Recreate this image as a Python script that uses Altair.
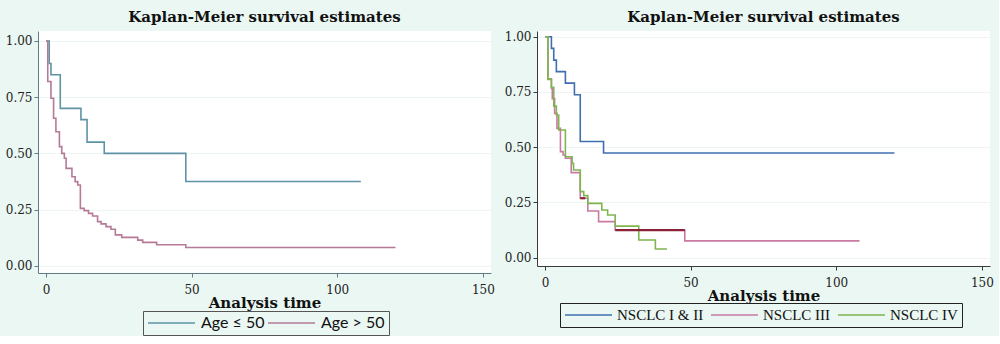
import altair as alt
import pandas as pd

# ---------------- data ----------------
left_groups = ["Age \u2264 50", "Age > 50"]
left_colors = ["#5e93a6", "#b57a98"]

age_le50_t = [0, 1.1, 1.7, 4.9, 12.0, 14.1, 20.0, 48.0, 108.1]
age_le50_s = [1.0, 0.90, 0.85, 0.70, 0.65, 0.55, 0.50, 0.375, 0.375]

age_gt50_t = [0, 0.6, 1.7, 2.6, 3.4, 4.6, 5.4, 6.3, 6.9, 8.9, 10.0, 10.9, 11.8,
              13.1, 14.6, 16.0, 17.7, 18.9, 20.6, 22.3, 23.8, 26.0, 31.5, 33.2,
              38.0, 48.0, 120.0]
age_gt50_s = [1.0, 0.82, 0.745, 0.656, 0.596, 0.53, 0.50, 0.478, 0.433, 0.396,
              0.374, 0.359, 0.255, 0.245, 0.233, 0.221, 0.196, 0.186, 0.174,
              0.162, 0.137, 0.126, 0.114, 0.104, 0.093, 0.081, 0.081]

right_groups = ["NSCLC I & II", "NSCLC III", "NSCLC IV"]
right_colors = ["#3f6fae", "#c97aa3", "#7fb551"]

nsclc12_t = [0, 2.2, 3.0, 3.9, 7.0, 10.1, 12.1, 20.1, 120.0]
nsclc12_s = [1.0, 0.947, 0.894, 0.842, 0.79, 0.737, 0.526, 0.474, 0.474]

nsclc3_t = [0, 1.0, 2.2, 2.5, 3.3, 4.1, 5.3, 6.2, 7.0, 9.0, 12.1, 14.7, 18.4,
            24.1, 48.0, 108.0]
nsclc3_s = [1.0, 0.81, 0.766, 0.72, 0.653, 0.585, 0.48, 0.465, 0.45, 0.385,
            0.269, 0.211, 0.163, 0.125, 0.076, 0.076]

nsclc4_t = [0, 1.0, 2.2, 3.0, 3.9, 4.7, 7.0, 9.3, 9.8, 12.1, 13.3, 14.7, 19.5,
            21.5, 24.1, 32.2, 37.9, 41.9]
nsclc4_s = [1.0, 0.807, 0.771, 0.686, 0.646, 0.578, 0.457, 0.427, 0.397, 0.299,
            0.281, 0.246, 0.216, 0.193, 0.143, 0.08, 0.039, 0.039]

# darker overlap segments seen on the NSCLC III curve
overlap_seg = ["a", "a", "b", "b"]
overlap_t = [12.1, 13.8, 24.1, 48.0]
overlap_s = [0.269, 0.269, 0.125, 0.125]

x_ticks = [0, 50, 100, 150]
y_ticks = [0.0, 0.25, 0.5, 0.75, 1.0]

# ---------------- tables ----------------
def frame(ts, ss, name):
    return pd.DataFrame({"t": ts, "s": ss, "g": [name] * len(ts)})

left_df = pd.concat([frame(age_le50_t, age_le50_s, left_groups[0]),
                     frame(age_gt50_t, age_gt50_s, left_groups[1])])
right_df = pd.concat([frame(nsclc12_t, nsclc12_s, right_groups[0]),
                      frame(nsclc3_t, nsclc3_s, right_groups[1]),
                      frame(nsclc4_t, nsclc4_s, right_groups[2])])
over_df = pd.DataFrame({"t": overlap_t, "s": overlap_s, "seg": overlap_seg})

SERIF = "DejaVu Serif"
AX_COLOR_L = "#5f7d86"
AX_COLOR_R = "#3a3a3a"


def xenc(axcol):
    return alt.X("t:Q",
                 scale=alt.Scale(domain=[-2.75, 152.8], nice=False, zero=False),
                 axis=alt.Axis(values=x_ticks, title="Analysis time", grid=False,
                               domainColor=axcol, tickColor=axcol, tickSize=4,
                               labelFont=SERIF, labelFontSize=12, labelColor="#222",
                               labelPadding=7,
                               titleFont=SERIF, titleFontSize=15, titleFontWeight="bold",
                               titleColor="#111", titlePadding=0))


def yenc(axcol, dom):
    return alt.Y("s:Q",
                 scale=alt.Scale(domain=dom, nice=False, zero=False),
                 axis=alt.Axis(values=y_ticks, format=".2f", title=None, grid=True,
                               gridColor="#eef6f3", gridWidth=1,
                               domainColor=axcol, tickColor=axcol, tickSize=4,
                               labelFont=SERIF, labelFontSize=12, labelColor="#222",
                               labelPadding=2))


def title(off):
    return alt.TitleParams("Kaplan-Meier survival estimates", font=SERIF, fontSize=15,
                           fontWeight="bold", color="#111", anchor="middle", offset=off)


def legend(x, y, n, font, size, off, colpad, stroke):
    return alt.Legend(orient="none", legendX=x, legendY=y, direction="horizontal",
                      columns=n, title=None, symbolType="stroke", symbolSize=2209,
                      symbolStrokeWidth=1.5, clipHeight=16, labelFont=font,
                      labelFontSize=size, labelColor="#111", labelOffset=off,
                      columnPadding=colpad, strokeColor=stroke, padding=4)


left = alt.Chart(left_df, title=title(6)).mark_line(
    interpolate="step-after", strokeWidth=1.6).encode(
    x=xenc(AX_COLOR_L),
    y=yenc(AX_COLOR_L, [-0.0325, 1.0445]),
    color=alt.Color("g:N", scale=alt.Scale(domain=left_groups, range=left_colors),
                    legend=legend(105, 280, 2, "Lato", 16, 5, 2, "#555")),
    detail="g:N"
).properties(width=453, height=242)

right_lines = alt.Chart(right_df).mark_line(
    interpolate="step-after", strokeWidth=1.6).encode(
    x=xenc(AX_COLOR_R),
    y=yenc(AX_COLOR_R, [-0.0376, 1.0258]),
    color=alt.Color("g:N", scale=alt.Scale(domain=right_groups, range=right_colors),
                    legend=legend(23, 272, 3, "Liberation Serif", 15, 4, 6, "#222")),
)

right_over = alt.Chart(over_df).mark_line(strokeWidth=2.2, color="#8c2238").encode(
    x=alt.X("t:Q"), y=alt.Y("s:Q"), detail="seg:N")

right = alt.layer(right_lines, right_over, title=title(6)).properties(width=453, height=235)

chart = alt.hconcat(left, right, spacing=9).resolve_scale(color="independent").properties(
    background="#eaf7f2",
    padding={"left": 5, "top": 9, "right": 5, "bottom": 0},
).configure_view(fill="white", stroke=None)

chart.save("out.html", embed_options={"renderer": "svg", "actions": False})
